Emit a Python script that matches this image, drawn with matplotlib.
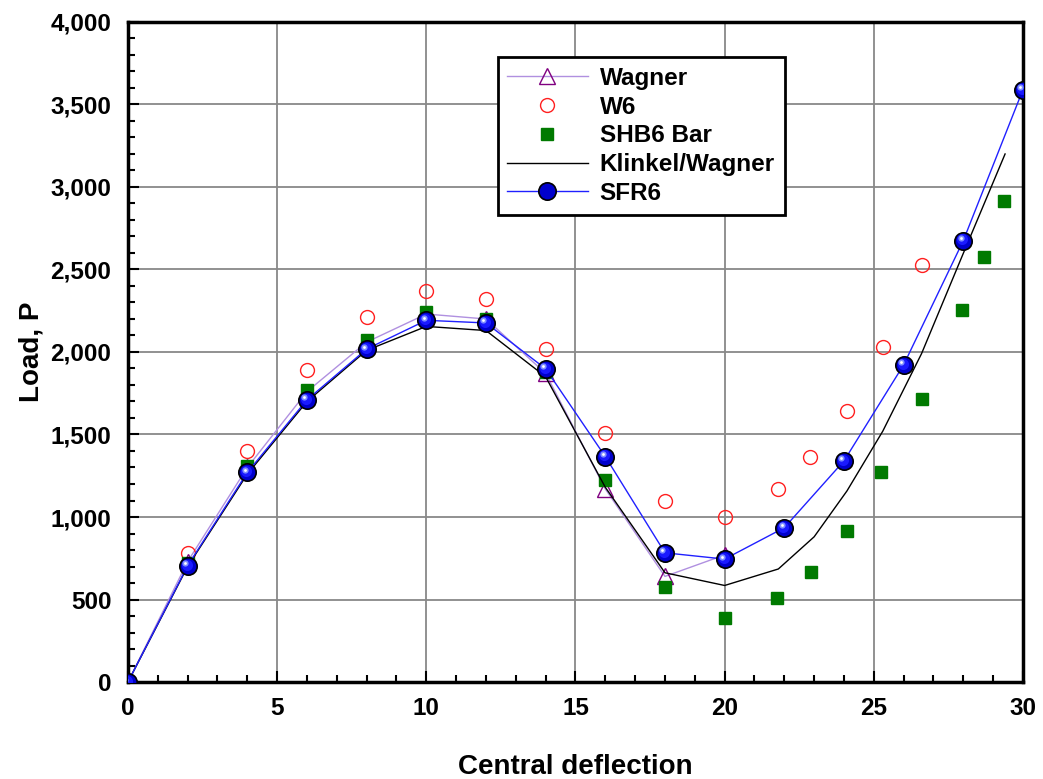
import matplotlib.pyplot as plt
from matplotlib.ticker import MultipleLocator, FuncFormatter
from matplotlib.transforms import offset_copy

plt.rcParams['font.family'] = ['Liberation Sans', 'DejaVu Sans']
plt.rcParams['font.weight'] = 'bold'

# data
wagner_x = [0, 2, 4, 6, 8, 10, 12, 14, 16, 18, 20]
wagner_y = [0, 730, 1300, 1760, 2060, 2230, 2200, 1870, 1170, 640, 770]

w6_x = [2, 4, 6, 8, 10, 12, 14, 16, 18, 20, 21.8, 22.85, 24.1, 25.3, 26.6]
w6_y = [780, 1400, 1890, 2210, 2370, 2320, 2020, 1510, 1100, 1000, 1170, 1365, 1645, 2030, 2530]

shb6_x = [0, 2, 4, 6, 8, 10, 12, 14, 16, 18, 20, 21.75, 22.9, 24.1, 25.25, 26.6, 27.95, 28.7, 29.35]
shb6_y = [0, 720, 1310, 1770, 2070, 2240, 2200, 1880, 1225, 575, 388, 507, 668, 918, 1270, 1715, 2255, 2575, 2918]

klinkel_x = [0, 2, 4, 6, 8, 10, 12, 14, 16, 18, 20, 21.8, 23.0, 24.1, 25.3, 26.6, 28.0, 29.4]
klinkel_y = [0, 700, 1260, 1700, 2010, 2155, 2130, 1850, 1180, 662, 585, 685, 880, 1158, 1520, 1990, 2598, 3200]

sfr6_x = [0, 2, 4, 6, 8, 10, 12, 14, 16, 18, 20, 22, 24, 26, 28, 30]
sfr6_y = [0, 705, 1270, 1710, 2018, 2192, 2176, 1898, 1366, 783, 745, 935, 1340, 1922, 2675, 3590]

fig = plt.figure(figsize=(10.43, 7.79), dpi=100)
ax = fig.add_axes([0.1227, 0.1245, 0.8581, 0.8473])

ax.plot(wagner_x, wagner_y, color='#b090e0', lw=1, marker='^', ms=11,
        mfc='none', mec='#800080', mew=1, label='Wagner', zorder=3)
ax.plot(w6_x, w6_y, ls='none', marker='o', ms=10, mfc='none',
        mec='#ff2020', mew=1, label='W6', zorder=3)
ax.plot(shb6_x, shb6_y, ls='none', marker='s', ms=8.5, color='#007a00',
        label='SHB6 Bar', zorder=3)
ax.plot(klinkel_x, klinkel_y, color='black', lw=1, label='Klinkel/Wagner', zorder=4)
ax.plot(sfr6_x, sfr6_y, color='#2020ff', lw=1, marker='o', ms=12.5,
        mfc='#0000cc', mec='black', mew=1.2, label='SFR6', zorder=5)
# fake shading for the ball markers
sh1 = offset_copy(ax.transData, fig=fig, x=-0.8, y=0.8, units='points')
ax.plot(sfr6_x, sfr6_y, ls='none', marker='o', ms=8, color='#1a1aff',
        mew=0, transform=sh1, zorder=6)
sh2 = offset_copy(ax.transData, fig=fig, x=-1.8, y=1.8, units='points')
ax.plot(sfr6_x, sfr6_y, ls='none', marker='o', ms=4.5, color='#7f8fff',
        mew=0, transform=sh2, zorder=7)
ax.plot(sfr6_x, sfr6_y, ls='none', marker='o', ms=2, color='white',
        mew=0, transform=sh2, zorder=8)

ax.set_xlim(0, 30)
ax.set_ylim(0, 4000)
ax.xaxis.set_major_locator(MultipleLocator(5))
ax.xaxis.set_minor_locator(MultipleLocator(1))
ax.yaxis.set_major_locator(MultipleLocator(500))
ax.yaxis.set_minor_locator(MultipleLocator(100))
ax.yaxis.set_major_formatter(FuncFormatter(lambda v, p: f'{int(v):,}'))
ax.tick_params(which='both', direction='in', labelsize=17.5, width=1.5)
ax.tick_params(which='major', length=8)
ax.tick_params(axis='x', which='major', pad=11)
ax.tick_params(axis='y', which='major', pad=12)
ax.tick_params(which='minor', length=5)
ax.grid(True, which='major', color='#888888', lw=1.3)
ax.set_axisbelow(True)
for s in ax.spines.values():
    s.set_linewidth(2.5)
ax.set_clip_on(False)

ax.set_xlabel('Central deflection', fontsize=20, fontweight='bold', labelpad=24)
ax.set_ylabel('Load, P', fontsize=20, fontweight='bold', labelpad=4)

leg = ax.legend(loc='upper left', bbox_to_anchor=(0.413, 0.947), fontsize=17.5,
                handlelength=3.3, fancybox=False, framealpha=1, borderpad=0.4,
                labelspacing=0.24, handletextpad=0.5, borderaxespad=0)
leg.get_frame().set_edgecolor('black')
leg.get_frame().set_linewidth(2)

plt.savefig('out.png', dpi=100)
